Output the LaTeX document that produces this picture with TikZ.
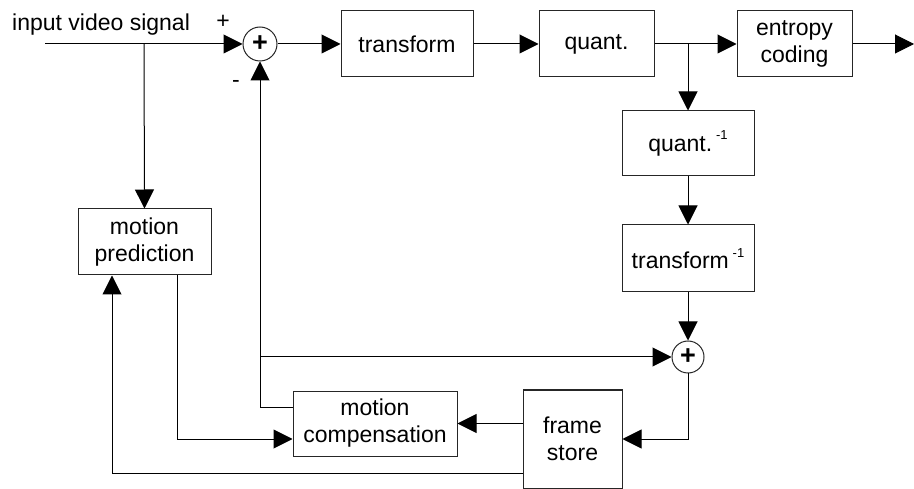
\documentclass[tikz,border=0pt]{standalone}
\usepackage{fontspec}
\setmainfont{Liberation Sans}
\usetikzlibrary{arrows.meta,calc}
\newcommand\invsup{\,\raisebox{0.5em}{\fontsize{13}{13}\selectfont -1}}
\begin{document}
\begin{tikzpicture}[x=1pt,y=-1pt,
  blk/.style={draw=black!85, line width=1pt, inner sep=0pt, align=center,
    font=\fontsize{23}{27}\selectfont},
  arr/.style={line width=1pt, -{Triangle[length=19pt,width=19pt]}},
  ln/.style={line width=1pt},
  sumc/.style={draw=black!85, circle, line width=1pt, inner sep=0pt,
    font=\fontsize{27}{27}\selectfont\bfseries},
  lbl/.style={font=\fontsize{23}{27}\selectfont, inner sep=0pt}]
\useasboundingbox (0,0) rectangle (914,489);
% nodes
\node[lbl, anchor=west] (inp) at (12,25) {input video signal};
\node[lbl] (plus) at (223,22) {+};
\node[lbl] (minus) at (236,84) {-};
\node[sumc, minimum size=34pt] (s1) at (260,44) {+};
\node[blk, minimum width=132pt, minimum height=66pt] (tr) at (407,44) {transform};
\node[blk, minimum width=115pt, minimum height=66pt] (qu) at (596.5,44) {quant.};
\node[blk, minimum width=115pt, minimum height=66pt] (ec) at (794.5,44) {entropy\\coding};
\node[blk, minimum width=132pt, minimum height=65pt] (iq) at (688,143.5) {quant.\invsup};
\node[blk, minimum width=132pt, minimum height=67pt] (it) at (688,258.5) {transform\invsup};
\node[sumc, minimum size=32pt] (s2) at (688,357) {+};
\node[blk, minimum width=133pt, minimum height=66pt] (mp) at (144.5,242) {motion\\prediction};
\node[blk, minimum width=164pt, minimum height=65pt] (mc) at (375,423.5) {motion\\compensation};
\node[blk, minimum width=99pt, minimum height=98pt] (fs) at (572.5,439) {frame\\store};
\coordinate (in0) at (45,44);
\coordinate (out) at (914,44);
\coordinate (br1) at (144,44);
\coordinate (br2) at (688,44);
\coordinate (mcw1) at ([yshift=16.5pt]mc.west);
\coordinate (mcw2) at ([yshift=-15.5pt]mc.west);
\coordinate (fsw2) at ([yshift=-34pt]fs.west);
\coordinate (mpb1) at ([xshift=32.5pt]mp.south);
\coordinate (mpb2) at ([xshift=-32.5pt]mp.south);
% connectors
\draw[arr] (in0) -- (s1.west);
\draw[arr] (br1) -- (mp.north);
\draw[arr] (s1.east) -- (tr.west);
\draw[arr] (tr.east) -- (qu.west);
\draw[arr] (qu.east) -- (ec.west);
\draw[arr] (br2) -- (iq.north);
\draw[arr] (ec.east) -- (out);
\draw[arr] (iq.south) -- (it.north);
\draw[arr] (it.south) -- (s2.north);
\draw[arr] (s2.south) |- (fs.east);
\draw[arr] (fs.west |- mc.east) -- (mc.east);
\draw[arr] (mcw1) -| (s1.south);
\draw[arr] (s1 |- s2) -- (s2.west);
\draw[arr] (mpb1) |- (mcw2);
\draw[arr] (fsw2) -| (mpb2);
\end{tikzpicture}
\end{document}
